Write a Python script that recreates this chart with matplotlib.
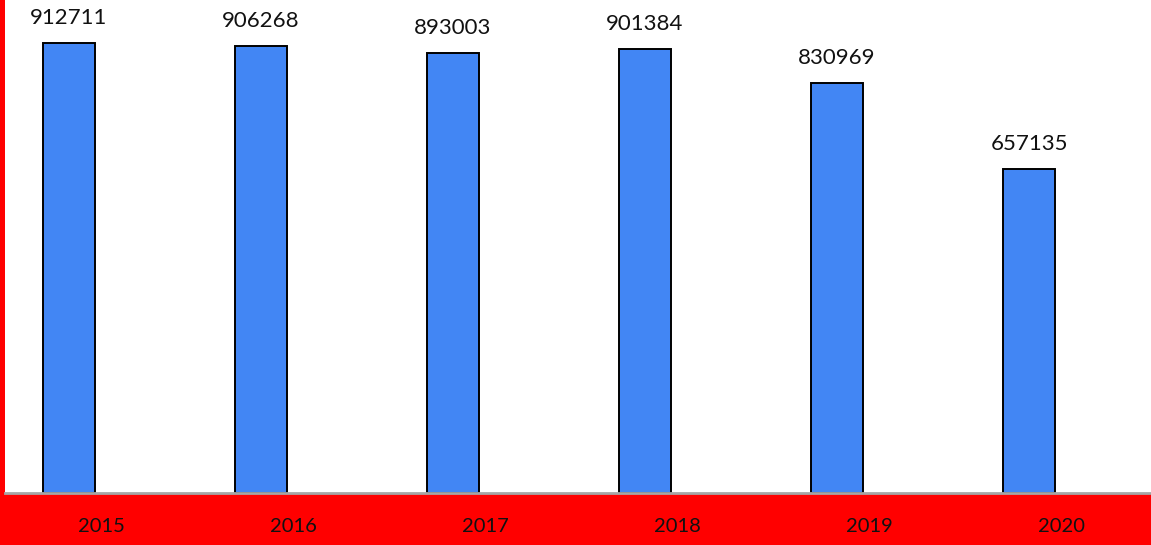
import matplotlib
matplotlib.use("Agg")
import matplotlib.pyplot as plt
import matplotlib.transforms as mtransforms

years = ["2015", "2016", "2017", "2018", "2019", "2020"]
values = [912711, 906268, 893003, 901384, 830969, 657135]

W, H, DPI = 1151, 545, 100
fig = plt.figure(figsize=(W / DPI, H / DPI), dpi=DPI)
fig.patch.set_facecolor("#ff0000")

ax = fig.add_axes([5 / W, 52 / H, 1 - 5 / W, 493 / H])
ax.set_facecolor("white")

x = list(range(len(years)))
bars = ax.bar(x, values, width=0.27, color="#4286f4", edgecolor="black", linewidth=1.4, zorder=2)

ax.set_xlim(-0.3333, 5.635)
ax.set_ylim(0, 1_000_000)

for s in ("top", "right", "left"):
    ax.spines[s].set_visible(False)
ax.spines["bottom"].set_color("#a6a6a6")
ax.spines["bottom"].set_linewidth(2)
ax.set_xticks([])
ax.set_yticks([])

font = ["Lato", "DejaVu Sans"]

# value labels above each bar
for xi, v in zip(x, values):
    ax.annotate(f"{v}", xy=(xi, v), xytext=(0, 13.7), textcoords="offset points",
                ha="center", va="baseline", fontsize=16, family=font,
                color="#111111", clip_on=False)

# year labels on the red band, shifted right of the bar centres
shift = mtransforms.ScaledTranslation(32 / DPI, 0, fig.dpi_scale_trans)
trans = mtransforms.blended_transform_factory(ax.transData, fig.transFigure) + shift
for xi, yr in zip(x, years):
    ax.text(xi, 18 / H, yr, transform=trans, ha="center", va="center",
            fontsize=14.5, family=font, color="#111111", clip_on=False)

fig.savefig("out.png", dpi=DPI, facecolor=fig.get_facecolor())
